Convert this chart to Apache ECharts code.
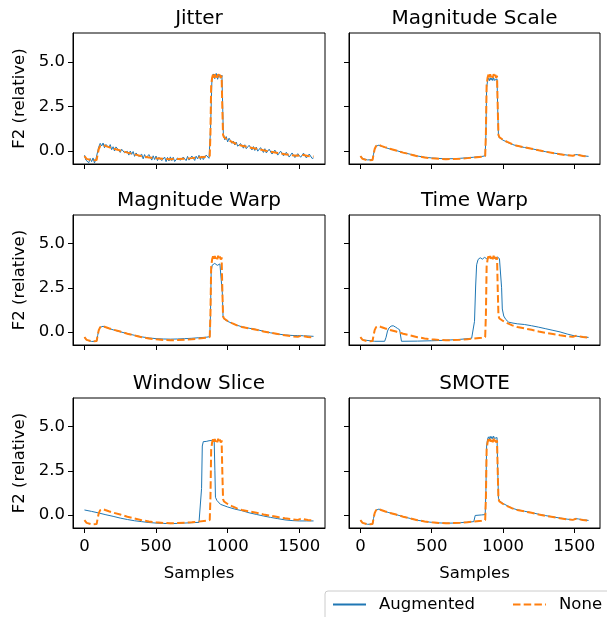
<!DOCTYPE html>
<html><head><meta charset="utf-8">
<script src="https://cdn.jsdelivr.net/npm/echarts@6/dist/echarts.min.js"></script>
<style>html,body{margin:0;padding:0;background:#fff}#c{width:607px;height:617px}</style>
</head><body><div id="c"></div>
<script>
// ---- data ----
const panelTitles = ['Jitter', 'Magnitude Scale', 'Magnitude Warp', 'Time Warp', 'Window Slice', 'SMOTE'];
const xTicks = [0, 500, 1000, 1500];
const yTicks = [0, 2.5, 5];

// common sample grid for the original ("None") signal and several augmentations
const samples = [0,15,25,50,85,92,100,110,120,130,145,170,200,250,300,350,400,450,500,550,600,650,700,750,795,805,850,875,880,885,892,898,904,910,916,922,928,934,940,946,952,958,963,968,975,1000,1030,1065,1100,1150,1200,1250,1300,1350,1400,1450,1490,1510,1530,1560,1600];
const noneF2 = [-0.30,-0.45,-0.52,-0.53,-0.52,-0.20,0.10,0.27,0.33,0.33,0.28,0.21,0.13,0.02,-0.10,-0.20,-0.30,-0.37,-0.42,-0.45,-0.47,-0.46,-0.44,-0.41,-0.38,-0.37,-0.33,-0.29,1.00,3.70,4.12,4.28,4.10,4.30,4.14,4.29,4.11,4.31,4.13,4.27,4.10,4.22,2.40,0.90,0.76,0.62,0.50,0.37,0.28,0.20,0.12,0.03,-0.05,-0.12,-0.19,-0.25,-0.28,-0.22,-0.24,-0.29,-0.32];
const magScaleF2 = [-0.29,-0.43,-0.50,-0.51,-0.50,-0.19,0.10,0.26,0.32,0.32,0.27,0.20,0.12,0.02,-0.10,-0.19,-0.29,-0.36,-0.40,-0.43,-0.45,-0.44,-0.42,-0.39,-0.36,-0.36,-0.32,-0.28,0.95,3.55,3.95,4.08,3.94,4.10,3.97,4.09,3.95,4.11,3.96,4.07,3.94,4.04,2.30,0.86,0.73,0.60,0.48,0.36,0.27,0.19,0.12,0.03,-0.05,-0.12,-0.18,-0.24,-0.27,-0.21,-0.23,-0.28,-0.31];
const magWarpF2 = [-0.30,-0.46,-0.53,-0.54,-0.53,-0.21,0.09,0.26,0.32,0.32,0.27,0.20,0.12,0.01,-0.10,-0.19,-0.28,-0.34,-0.38,-0.40,-0.41,-0.40,-0.38,-0.36,-0.33,-0.33,-0.30,-0.27,0.95,3.40,3.78,3.86,3.76,3.88,3.78,3.87,3.77,3.88,3.79,3.85,3.76,3.82,2.20,0.85,0.72,0.60,0.49,0.38,0.29,0.21,0.14,0.04,-0.05,-0.12,-0.17,-0.20,-0.21,-0.21,-0.22,-0.23,-0.25];
const smoteF2 = [-0.30,-0.45,-0.52,-0.53,-0.52,-0.20,0.10,0.27,0.33,0.33,0.28,0.21,0.13,0.02,-0.10,-0.20,-0.30,-0.37,-0.42,-0.45,-0.47,-0.46,-0.44,-0.41,-0.38,-0.03,0.00,0.02,1.40,3.90,4.30,4.42,4.30,4.45,4.32,4.44,4.31,4.46,4.33,4.42,4.30,4.38,2.50,0.95,0.80,0.65,0.52,0.38,0.29,0.21,0.13,0.04,-0.04,-0.11,-0.18,-0.24,-0.27,-0.21,-0.23,-0.28,-0.31];

// jitter: every 10th sample
const jitterSamples = Array.from({length: 161}, (_, i) => i * 10);
const jitterF2 = [
 -0.25,-0.52,-0.42,-0.67,-0.43,-0.61,-0.40,-0.68,-0.46,-0.40,
 0.22,0.42,0.27,0.44,0.17,0.36,0.30,0.17,0.35,0.06,
 0.23,-0.01,0.22,0.16,0.03,-0.09,0.09,0.10,-0.11,-0.14,
 -0.03,-0.24,-0.01,-0.20,-0.04,-0.31,-0.12,-0.10,-0.32,-0.33,
 -0.19,-0.45,-0.21,-0.41,-0.48,-0.21,-0.31,-0.52,-0.28,-0.49,
 -0.29,-0.55,-0.36,-0.30,-0.55,-0.51,-0.35,-0.61,-0.37,-0.57,
 -0.34,-0.55,-0.36,-0.60,-0.58,-0.40,-0.31,-0.53,-0.59,-0.35,
 -0.36,-0.55,-0.31,-0.52,-0.54,-0.29,-0.34,-0.54,-0.30,-0.45,
 -0.25,-0.49,-0.29,-0.49,-0.42,-0.24,-0.21,-0.42,1.10,3.95,
 4.32,4.05,4.35,4.02,4.30,4.08,4.25,0.95,0.62,0.80,
 0.50,0.71,0.63,0.42,0.55,0.33,0.49,0.26,0.20,0.41,
 0.38,0.15,0.34,0.12,0.08,0.31,0.29,0.05,0.24,0.02,
 0.21,-0.02,-0.05,0.18,0.13,-0.09,0.12,-0.12,-0.15,0.09,
 0.06,-0.18,-0.21,0.04,0.00,-0.24,-0.27,-0.02,-0.05,-0.28,
 -0.33,-0.08,-0.10,-0.35,-0.37,-0.12,-0.15,-0.38,-0.40,-0.16,
 -0.10,-0.36,-0.37,-0.13,-0.16,-0.40,-0.42,-0.18,-0.20,-0.43,
 -0.40];

// time warp
const twSamples = [0,15,25,100,170,180,190,200,215,230,245,260,275,284,288,400,500,600,700,780,792,800,808,815,825,840,855,870,885,900,915,930,945,960,975,985,990,995,1005,1020,1040,1070,1100,1150,1200,1250,1300,1350,1400,1450,1500,1550,1600];
const twF2 = [-0.30,-0.45,-0.53,-0.53,-0.53,-0.30,0.05,0.22,0.33,0.35,0.28,0.20,0.12,0.06,-0.53,-0.52,-0.50,-0.47,-0.42,-0.36,-0.30,0.60,2.60,3.80,4.10,4.20,4.12,4.22,4.15,4.25,4.14,4.22,4.16,4.24,4.15,4.20,2.50,1.30,0.90,0.70,0.55,0.50,0.46,0.42,0.35,0.27,0.18,0.09,0.00,-0.12,-0.22,-0.28,-0.31];

// window slice
const wsSamples = [0,50,100,150,200,250,300,350,400,450,500,550,600,650,700,750,800,812,818,823,830,840,850,860,870,880,890,900,906,911,915,925,950,1000,1050,1100,1150,1200,1250,1300,1350,1400,1450,1500,1550,1600];
const wsF2 = [0.28,0.20,0.11,0.01,-0.08,-0.18,-0.26,-0.33,-0.38,-0.43,-0.46,-0.48,-0.49,-0.48,-0.46,-0.44,-0.42,-0.40,1.50,3.90,4.15,4.22,4.16,4.26,4.20,4.28,4.22,4.30,4.20,2.50,1.00,0.82,0.60,0.45,0.33,0.24,0.12,0.03,-0.06,-0.14,-0.21,-0.28,-0.32,-0.34,-0.34,-0.34];

// ---- build chart ----
const pairs = (xs, ys) => xs.map((x, i) => [x, ys[i]]);
const augmented = [
  pairs(jitterSamples, jitterF2),
  pairs(samples, magScaleF2),
  pairs(samples, magWarpF2),
  pairs(twSamples, twF2),
  pairs(wsSamples, wsF2),
  pairs(samples, smoteF2)
];
const original = pairs(samples, noneF2);

const FONT = 'DejaVu Sans';
const cols = [{left: 73, width: 252}, {left: 349, width: 251}];
const rows = [{top: 33, height: 131}, {top: 215, height: 130}, {top: 398, height: 130}];

const grid = [], xAxis = [], yAxis = [], series = [], title = [];
panelTitles.forEach((t, i) => {
  const r = Math.floor(i / 2), c = i % 2;
  grid.push({left: cols[c].left, width: cols[c].width, top: rows[r].top, height: rows[r].height,
    show: true, borderColor: '#000', borderWidth: 1, backgroundColor: 'transparent', containLabel: false});
  title.push({text: t, left: cols[c].left + cols[c].width / 2, top: rows[r].top - 24, textAlign: 'center', padding: 0,
    textStyle: {fontFamily: FONT, fontSize: 20, fontWeight: 'normal', color: '#000'}});
  xAxis.push({type: 'value', gridIndex: i, min: -80, max: 1680,
    axisLine: {show: true, onZero: false, lineStyle: {color: '#000', width: 1}},
    axisTick: {show: true, length: 5, customValues: xTicks, lineStyle: {color: '#000', width: 1}},
    axisLabel: {show: r === 2, customValues: xTicks, margin: 10, fontFamily: FONT, fontSize: 16.5, color: '#000',
      formatter: v => String(v)},
    splitLine: {show: false},
    name: r === 2 ? 'Samples' : '', nameLocation: 'middle', nameGap: 37,
    nameTextStyle: {fontFamily: FONT, fontSize: 16.5, color: '#000'}});
  yAxis.push({type: 'value', gridIndex: i, min: -0.74, max: 6.62,
    axisLine: {show: true, onZero: false, lineStyle: {color: '#000', width: 1}},
    axisTick: {show: true, length: 5, customValues: yTicks, lineStyle: {color: '#000', width: 1}},
    axisLabel: {show: c === 0, customValues: yTicks, margin: 8, fontFamily: FONT, fontSize: 16.5, color: '#000',
      formatter: v => v.toFixed(1)},
    splitLine: {show: false},
    name: c === 0 ? 'F2 (relative)' : '', nameLocation: 'middle', nameGap: 45,
    nameTextStyle: {fontFamily: FONT, fontSize: 16.5, color: '#000'}});
  series.push({type: 'line', name: 'Augmented', xAxisIndex: i, yAxisIndex: i, data: augmented[i],
    symbol: 'none', z: 2, lineStyle: {color: '#1f77b4', width: 1}, itemStyle: {color: '#1f77b4'}});
  series.push({type: 'line', name: 'None', xAxisIndex: i, yAxisIndex: i, data: original,
    symbol: 'none', z: 3, lineStyle: {color: '#ff7f0e', width: 2, type: [7.5, 3.2]}, itemStyle: {color: '#ff7f0e'}});
});

const chart = echarts.init(document.getElementById('c'), null, {renderer: 'canvas'});
chart.setOption({
  animation: false,
  backgroundColor: '#fff',
  title, grid, xAxis, yAxis, series,
  legend: {data: ['Augmented', 'None'], left: 325, top: 591, width: 320, orient: 'horizontal',
    itemWidth: 33, itemHeight: 10, itemGap: 37, padding: [5, 12, 8, 7],
    itemStyle: {opacity: 0},
    borderColor: '#cccccc', borderWidth: 1, borderRadius: 3, backgroundColor: '#fff',
    textStyle: {fontFamily: FONT, fontSize: 16.5, color: '#000', padding: [0, 0, 0, 8]}}
});
</script></body></html>
